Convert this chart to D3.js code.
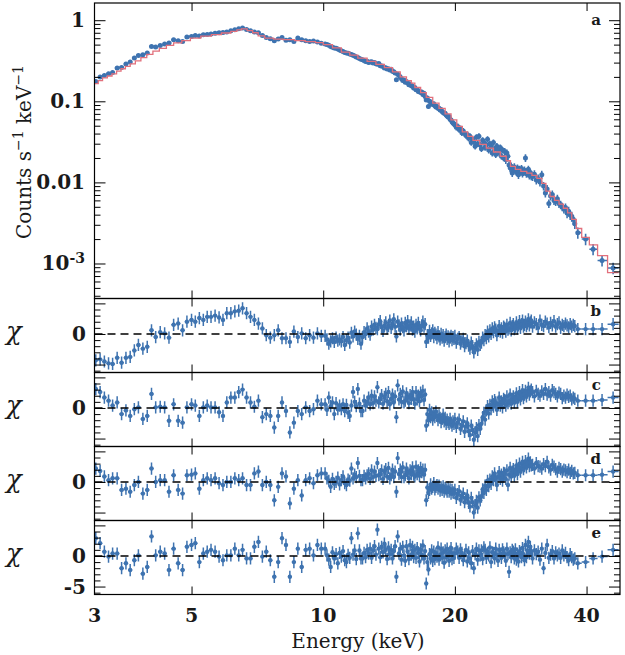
<!DOCTYPE html>
<html>
<head>
<meta charset="utf-8">
<script src="https://d3js.org/d3.v7.min.js"></script>
<style>
  body { margin: 0; background: #fff; }
  text { font-family: "DejaVu Serif", serif; fill: #1a1a1a; }
</style>
</head>
<body>
<div id="chart"></div>
<script>
// bin centres (keV)
const energy = [
  3.02, 3.09, 3.16, 3.23, 3.30, 3.38, 3.46, 3.54, 3.62, 3.70, 3.78, 3.87, 3.96, 4.05, 4.14, 4.24, 4.34, 4.44, 4.55, 4.66, 4.77, 4.88,
  5.00, 5.10, 5.21, 5.32, 5.43, 5.54, 5.66, 5.78, 5.90, 6.02, 6.15, 6.28, 6.41, 6.54, 6.68, 6.82, 6.96, 7.11, 7.26, 7.41, 7.57, 7.73,
  7.89, 8.05, 8.22, 8.39, 8.57, 8.75, 8.93, 9.12, 9.31, 9.50, 9.70, 9.90,
  10.1, 10.2, 10.3, 10.4, 10.5, 10.6, 10.7, 10.8, 10.9, 11.0, 11.1, 11.2, 11.3, 11.4, 11.5, 11.6, 11.7, 11.8, 11.9, 12.0, 12.1, 12.2,
  12.3, 12.4, 12.5, 12.6, 12.7, 12.8, 12.9, 13.0, 13.1, 13.2, 13.3, 13.4, 13.5, 13.6, 13.7, 13.8, 13.9, 14.0, 14.1, 14.2,
  14.3, 14.4, 14.5, 14.6, 14.7, 14.8, 14.9, 15.0, 15.1, 15.2, 15.3, 15.4, 15.5, 15.6, 15.7, 15.8, 15.9, 16.0, 16.1, 16.2,
  16.3, 16.4, 16.5, 16.6, 16.7, 16.8, 16.9, 17.0, 17.1, 17.2, 17.3, 17.4, 17.5, 17.6, 17.7, 17.8, 17.9, 18.0, 18.1, 18.2,
  18.3, 18.4, 18.5, 18.6, 18.7, 18.8, 18.9, 19.0, 19.1, 19.2, 19.3, 19.4, 19.5, 19.6, 19.7, 19.8, 19.9,
  20.0, 20.15, 20.3, 20.45, 20.6, 20.75, 20.9, 21.05, 21.2, 21.35, 21.5, 21.65, 21.8, 21.95, 22.1, 22.25, 22.4, 22.55, 22.7, 22.85,
  23.0, 23.15, 23.3, 23.45, 23.6, 23.75, 23.9, 24.05, 24.2, 24.35, 24.5, 24.65, 24.8, 24.95, 25.1, 25.25, 25.4, 25.55, 25.7, 25.85,
  26.0, 26.15, 26.3, 26.45, 26.6, 26.75, 26.9, 27.05, 27.2, 27.35, 27.5, 27.65, 27.8, 27.95, 28.1, 28.25, 28.4, 28.55, 28.7, 28.85,
  29.0, 29.15, 29.3, 29.45, 29.6, 29.75, 29.9,
  30.1, 30.4, 30.7, 31.0, 31.3, 31.6, 31.9, 32.2, 32.5, 32.8, 33.1, 33.4, 33.7, 34.0, 34.3, 34.6, 34.9, 35.2, 35.5, 35.8,
  36.1, 36.4, 36.7, 37.0, 37.3, 37.6,
  38.2, 39.8, 41.4, 43.4, 46.0
];

// counts s^-1 keV^-1 (panel a)
const counts = [
  0.176, 0.199, 0.208, 0.218, 0.226, 0.257, 0.262, 0.288, 0.305, 0.341, 0.368, 0.375, 0.393, 0.475, 0.467, 0.489, 0.508, 0.523, 0.575, 0.558, 0.548, 0.62,
  0.631, 0.649, 0.64, 0.662, 0.668, 0.675, 0.69, 0.701, 0.705, 0.715, 0.742, 0.76, 0.785, 0.80, 0.77, 0.742, 0.715, 0.70, 0.65, 0.613, 0.59, 0.558,
  0.585, 0.613, 0.565, 0.575, 0.548, 0.602, 0.575, 0.56, 0.548, 0.555, 0.538, 0.52,
  0.51, 0.50, 0.49, 0.475, 0.465, 0.455, 0.45, 0.44, 0.43, 0.42, 0.41, 0.40, 0.395, 0.39, 0.383, 0.378, 0.37, 0.362, 0.352, 0.346, 0.338, 0.33,
  0.326, 0.319, 0.31, 0.312, 0.30, 0.305, 0.308, 0.296, 0.30, 0.29, 0.287, 0.292, 0.275, 0.272, 0.27, 0.258, 0.26, 0.25, 0.252, 0.243,
  0.248, 0.235, 0.232, 0.223, 0.184, 0.215, 0.21, 0.20, 0.19, 0.18, 0.183, 0.172, 0.175, 0.168, 0.16, 0.163, 0.155, 0.153, 0.146, 0.148,
  0.139, 0.14, 0.132, 0.133, 0.128, 0.13, 0.121, 0.126, 0.115, 0.104, 0.11, 0.086, 0.10, 0.098, 0.093, 0.091, 0.093, 0.088, 0.085, 0.086,
  0.082, 0.082, 0.078, 0.079, 0.075, 0.073, 0.071, 0.071, 0.068, 0.066, 0.064, 0.065, 0.06, 0.059, 0.056, 0.054, 0.053,
  0.051, 0.048, 0.049, 0.045, 0.046, 0.041, 0.043, 0.040, 0.038, 0.039, 0.035, 0.037, 0.031, 0.034, 0.032, 0.028, 0.036, 0.030, 0.037, 0.029,
  0.026, 0.033, 0.031, 0.027, 0.029, 0.034, 0.025, 0.030, 0.028, 0.023, 0.031, 0.026, 0.022, 0.028, 0.025, 0.023, 0.027, 0.021, 0.025, 0.020,
  0.024, 0.019, 0.023, 0.021, 0.0164, 0.0150, 0.0158, 0.0131, 0.0142, 0.0155, 0.0140, 0.0135, 0.0150, 0.0124, 0.0145, 0.0138, 0.0148, 0.0129, 0.0135, 0.0141,
  0.020, 0.0128, 0.0136, 0.0145, 0.0122, 0.0132, 0.0119,
  0.0118, 0.0126, 0.0107, 0.0112, 0.0101, 0.0124, 0.0090, 0.0074, 0.0083, 0.0055, 0.0068, 0.0071, 0.0060, 0.0058, 0.0063, 0.0055, 0.0053, 0.0050, 0.0047, 0.0049,
  0.0042, 0.0044, 0.0040, 0.0038, 0.0035, 0.0031,
  0.0024, 0.0020, 0.0015, 0.00109, 0.00088
];

// fractional 1-sigma error on counts, by energy band
const errBandE = [3, 8, 12, 16, 20, 26, 30, 36, 38];
const errBandFrac = [0.025, 0.03, 0.045, 0.06, 0.09, 0.11, 0.12, 0.14, 0.16];

// folded model (step histogram): lower bin edges + values
const modelEdges = [
  3.00, 3.06, 3.13, 3.21, 3.29, 3.37, 3.45, 3.53, 3.62, 3.72, 3.83, 3.95, 4.08, 4.22, 4.38, 4.55, 4.75, 4.97, 5.25, 5.55,
  5.85, 6.15, 6.35, 6.50, 6.70, 6.90, 7.10, 7.35, 7.70, 8.10, 8.60, 9.10, 9.60, 10.0, 10.5, 11.0, 11.5, 12.0, 12.6, 13.2,
  13.8, 14.4, 15.0, 15.5, 15.9, 16.2, 16.7, 17.2, 17.8, 18.4, 19.0, 19.6, 20.2, 20.8, 21.4, 22.0, 22.8, 23.6, 24.5, 25.4,
  26.2, 26.8, 27.5, 28.3, 29.2, 30.0, 30.8, 31.6, 32.3, 33.0, 33.8, 34.6, 35.4, 36.2, 37.0, 37.9, 38.99, 40.59, 42.39, 44.68, 47.36
];
const modelCounts = [
  0.165, 0.18, 0.195, 0.205, 0.218, 0.235, 0.252, 0.27, 0.29, 0.315, 0.345, 0.38, 0.415, 0.45, 0.49, 0.525, 0.56, 0.60, 0.635, 0.665,
  0.695, 0.73, 0.76, 0.78, 0.745, 0.70, 0.64, 0.60, 0.585, 0.575, 0.56, 0.545, 0.53, 0.50, 0.455, 0.405, 0.37, 0.34, 0.31, 0.285,
  0.26, 0.23, 0.20, 0.18, 0.168, 0.148, 0.128, 0.112, 0.095, 0.082, 0.07, 0.059, 0.049, 0.042, 0.037, 0.033, 0.0295, 0.0265, 0.0237, 0.021,
  0.0185, 0.0158, 0.0145, 0.0137, 0.013, 0.0122, 0.0112, 0.0097, 0.0078, 0.0067, 0.006, 0.0054, 0.0048, 0.0042, 0.0035, 0.0027, 0.0021, 0.0017, 0.00125, 0.00077
];

// residuals (chi) for panels b-e
const chiB = [
  -4.3, -4.15, -4.5, -4.8, -4.9, -3.9, -4.7, -3.9, -3.75, -2.7, -1.8, -2.4, -2.1, 0.6, -0.5, 0.3, 0.1, -0.6, 1.5, 1.7, 0.6, 2.0,
  2.3, 2.0, 2.6, 2.3, 2.8, 2.8, 3.0, 2.7, 2.3, 3.4, 3.4, 3.7, 3.8, 4.2, 3.4, 2.8, 2.3, 1.7, 0.9, -0.2, -0.6, -0.2, 0.6, -0.7,
  -0.7, -1.3, 0.4, -0.5, 0.1, -0.7, -0.2, -0.6, 0.1, -0.3,
  -0.3, -0.9, -1.6, -1.2, -0.7, -1.3, -0.6, -1.1, -0.9, -1.2, -0.5, -1.8, -1.0, -0.6, -1.4, 0.2, -0.4, 0.4, -0.1, -0.8, -0.3, -1.6,
  -0.5, 0.3, 0.0, 0.9, 0.4, -0.1, 1.2, 0.7, 1.5, 1.0, 0.8, 1.6, 2.1, 1.1, 0.5, 1.4, 1.9, 0.9, 1.3, 2.2,
  1.0, 1.6, 2.4, 1.2, -0.4, 2.0, 1.4, 0.7, 1.7, 1.1, 0.6, 1.8, 1.3, 2.1, 0.9, 1.4, 1.9, 0.7, 1.2, 0.4,
  1.5, 0.9, 1.8, 1.1, 0.6, 1.4, 2.0, 1.2, 1.6, -1.3, -0.2, -0.6, 0.5, -0.3, 0.1, 0.6, -0.5, 0.2, -0.1, -0.7,
  0.3, -0.4, -0.9, 0.0, -0.6, -0.2, -1.1, -0.5, -0.1, -0.8, -0.4, -1.2, -0.6, -0.3, -1.0, -0.5, -0.8,
  -0.3, -1.4, -0.8, -0.5, -1.6, -1.2, -0.8, -2.0, -1.5, -1.1, -1.9, -2.4, -1.4, -2.0, -3.0, -2.3, -1.7, -2.6, -1.3, -1.8,
  -1.4, -0.6, -1.0, -0.2, -0.7, 0.4, -0.4, 0.6, 0.0, 0.9, 0.3, 1.1, 0.7, -0.2, 0.5, 1.3, 0.4, 0.9, 0.2, 1.2,
  1.0, 0.4, 1.5, 0.7, 0.9, 1.8, 0.6, 1.3, 1.6, 0.8, 1.2, 1.9, 0.9, 1.4, 2.1, 1.0, 1.6, 2.2, 1.2, 1.5,
  2.0, 1.3, 1.7, 2.4, 1.4, 1.9, 2.2,
  1.2, 1.9, 1.6, 1.0, 2.2, 1.5, 1.3, 2.0, 1.7, 1.1, 1.8, 1.4, 2.1, 1.2, 1.6, 1.9, 1.0, 1.5, 1.3, 1.7,
  1.4, 1.1, 1.6, 1.2, 1.5, 1.3,
  0.8, 0.8, 0.8, 0.8, 1.6
];
const chiC = [
  3.1, 2.6, 1.7, 1.2, 0.4, 0.9, -1.0, -0.4, -1.3, -0.2, 0.1, -1.8, -1.3, 2.3, 0.1, 0.2, 0.1, -2.1, 0.6, -2.1, -2.4, 0.1,
  0.6, 0.4, -1.3, 0.1, 0.4, 0.1, 0.1, -0.7, -1.3, 0.9, 1.7, 1.7, 2.6, 3.0, 1.7, 0.9, 0.2, 1.2, -1.5, -1.0, -1.3, -3.2, -1.3, 0.9,
  -0.5, -4.0, -2.4, -0.5, -1.0, 0.1, -0.5, -0.2, 1.2, 0.6,
  0.6, -0.3, 1.7, 0.3, 0.9, -1.0, 0.8, -0.2, 0.4, -0.2, 0.6, -0.5, 0.5, -0.8, -1.3, 0.4, 2.6, 1.0, 0.3, 3.1, 0.7, -0.5,
  -0.5, 1.2, 0.4, 1.0, 1.7, 0.6, 2.0, 0.8, 1.9, 1.2, 3.4, 0.9, 1.5, 2.1, 0.7, 1.8, 2.3, 1.1, 2.6, 0.6,
  1.5, 2.2, 0.9, 1.9, -1.5, 3.7, 1.4, 2.3, 1.0, 2.7, 0.9, 1.2, 2.4, 1.7, 0.8, 2.1, 1.5, 2.6, 1.4, 0.7,
  2.6, 1.4, 2.0, 1.1, 2.5, 1.9, 2.8, 1.3, 2.2, -2.9, -1.0, -2.0, -0.3, -1.5, -0.7, -1.9, -1.0, -1.5, -0.6, -1.3,
  -2.0, -1.2, -1.6, -2.3, -1.8, -1.1, -2.2, -1.6, -2.6, -1.9, -2.3, -2.6, -1.8, -2.4, -2.9, -2.2, -2.6,
  -1.8, -3.1, -2.4, -1.9, -3.4, -2.9, -2.2, -3.9, -3.0, -2.5, -3.8, -4.4, -2.9, -3.6, -5.2, -4.0, -3.3, -4.6, -2.8, -3.4,
  -2.6, -1.5, -0.8, -1.9, -0.4, 0.3, -0.9, 0.5, -0.2, 1.1, 0.2, 1.3, 0.9, -0.3, 0.6, 1.7, 0.4, 1.1, 0.1, 1.5,
  1.3, 0.4, 1.9, 0.8, 1.1, 2.2, 0.7, 1.5, 1.9, 0.9, 1.6, 2.4, 1.0, 1.8, 2.6, 1.4, 2.0, 2.9, 1.6, 2.2,
  2.8, 1.9, 2.5, 3.3, 2.2, 2.7, 3.0,
  2.6, 1.9, 2.8, 2.3, 2.0, 2.7, 2.3, 3.1, 2.2, 2.6, 2.0, 2.9, 2.6, 2.3, 1.9, 2.5, 2.3, 1.6, 2.0, 1.7,
  2.2, 1.8, 2.0, 1.4, 1.7, 1.5,
  1.2, 1.2, 1.2, 1.3, 1.7
];
const chiD = [
  2.2, 1.8, 0.9, 0.3, 0.6, 0.6, -1.3, -1.1, -1.6, -0.5, 0.0, -1.9, -1.3, 2.2, 0.0, 0.3, 0.3, -1.6, 1.1, -1.3, -1.9, 1.1,
  1.2, 1.4, -1.1, 0.3, 0.6, 0.3, 0.6, -0.2, -0.5, 0.0, 0.0, 0.6, 0.3, 0.6, -0.5, -0.5, 1.4, 1.7, -0.5, 0.0, -0.5, -3.0, -0.8, 1.4,
  0.9, -3.5, -1.1, 0.3, -2.2, 0.3, 0.6, -0.2, 1.1, 1.4,
  1.4, 0.6, 0.2, -0.8, 0.5, -0.3, 0.0, 0.7, -0.4, 0.3, 0.9, -0.2, -0.5, 0.4, 0.2, 2.2, 0.6, 1.2, 0.8, 3.1, 1.0, 0.3,
  0.3, 1.0, 0.6, 1.1, 1.4, 0.5, 1.9, 0.8, 1.7, 1.0, 3.1, 1.1, 1.3, 1.9, 0.5, 1.7, 2.1, 0.9, 2.3, 0.6,
  1.1, 2.0, 0.8, 1.7, -1.6, 3.9, 1.3, 2.0, 0.8, 2.4, 0.8, 1.1, 2.2, 1.5, 0.6, 1.9, 1.3, 2.4, 1.2, 0.9,
  2.5, 1.3, 1.9, 1.0, 2.3, 1.6, 2.0, 1.2, 2.0, -3.0, -0.9, -1.8, -1.3, -0.4, -1.1, -0.8, -0.2, -1.2, -0.8, -0.5,
  -1.1, -0.6, -1.4, -0.9, -1.3, -0.7, -1.6, -1.0, -1.2, -1.6, -0.9, -1.6, -1.2, -1.9, -1.3, -1.7, -1.8,
  -1.3, -2.6, -2.0, -1.5, -2.9, -2.4, -1.9, -3.3, -2.7, -2.2, -3.4, -4.0, -2.6, -3.3, -5.0, -3.8, -3.1, -4.2, -2.5, -3.0,
  -2.4, -1.2, -1.8, -0.6, -1.3, 0.2, -0.7, 0.4, -0.3, 0.9, 0.3, 1.4, 0.6, -0.5, 0.9, 1.6, 0.5, 1.2, 0.2, 1.5,
  1.4, 0.5, 1.9, -0.5, 1.2, 2.3, 0.9, 1.7, 2.1, 1.0, 1.8, 2.7, 1.3, 2.2, 3.0, 1.7, 2.4, 3.3, 2.1, 2.6,
  3.4, 2.4, 3.0, 3.8, 2.6, 3.2, 2.7,
  2.8, 2.2, 3.1, 2.6, 2.5, 2.2, 2.9, 2.6, 3.3, 2.4, 2.0, 2.8, 2.5, 2.1, 1.7, 2.3, 2.1, 1.7, 2.0, 1.9,
  1.6, 2.0, 1.5, 1.8, 1.4, 1.5,
  1.1, 1.1, 1.1, 1.2, 1.7
];
const chiE = [
  2.9, 2.1, 0.7, -0.1, 0.4, 0.4, -2.0, -1.2, -2.3, -0.7, 0.1, -2.9, -1.8, 3.2, 0.1, 0.7, 0.4, -2.3, 1.2, -1.2, -2.3, 1.5,
  1.8, 2.1, -1.0, 0.4, 0.7, 1.0, 0.7, -0.1, -0.7, 0.1, 0.1, 1.2, 0.1, 1.0, -0.4, -0.4, 1.5, 2.3, -0.1, 0.7, -0.7, -3.4, -1.0, 2.9,
  1.8, -3.4, -1.0, 1.2, -1.8, 1.0, 1.2, 0.1, 1.8, 1.2,
  1.2, 0.1, -0.6, -1.8, 0.6, -0.4, 0.3, -1.2, 0.5, -0.1, 0.8, -0.7, -1.0, 0.2, -0.3, 2.9, 0.2, 0.9, -0.5, 3.7, 0.9, -0.4,
  -0.4, 0.5, -0.2, 1.0, 0.4, 1.2, -0.3, 0.9, 1.6, 0.2, 4.3, 1.2, -0.2, 1.5, 0.6, 2.0, 1.0, -0.5, 1.4, 0.3,
  1.0, -0.4, 0.8, 1.6, -3.4, 3.2, 0.4, 1.2, -0.6, 1.5, 0.1, -0.8, 1.6, 0.7, -0.5, 1.8, 0.2, 1.5, -0.2, 1.0,
  -0.3, 1.3, 0.5, -0.9, 1.1, 0.2, 1.7, -0.4, 0.8, -4.5, -1.0, -2.2, 0.3, -0.4, 0.9, -0.8, 0.7, -0.5, 0.4, -0.1,
  1.4, -0.6, 0.2, 1.2, -0.3, 0.6, -1.1, 0.9, -0.2, 1.2, 0.3, -0.8, 0.7, 1.3, -0.5, 0.4, -0.3,
  0.4, 1.2, 0.7, -0.3, 1.1, 0.5, -0.7, 0.1, 1.0, -0.9, 0.6, -0.4, -1.2, 0.8, -2.0, 0.3, 1.2, -0.6, 0.9, 0.1,
  0.9, -0.5, 1.4, 1.0, -0.3, 0.5, 0.1, 1.4, -1.0, 0.6, 0.5, -0.4, 1.2, 0.2, -0.8, 1.0, 0.4, -0.3, 1.1, 0.6,
  0.2, -0.8, 1.2, 0.3, -2.6, 0.6, -0.2, 1.0, 0.7, -0.4, 1.1, -0.6, 0.4, -0.9, 0.8, 0.5, -0.2, 1.3, 0.3, -0.7,
  1.8, -0.2, 0.9, 2.3, 0.4, 1.5, 0.8,
  -0.4, 0.9, 0.3, 0.7, -0.6, 1.2, -2.0, 0.5, 1.8, -0.3, 0.2, 0.8, -0.4, 0.6, 0.1, 0.4, -0.3, 0.9, 0.1, 0.5,
  -0.2, -0.7, 0.3, -0.2, -0.6, -0.4,
  -1.2, -1.0, -0.4, -0.1, 1.0
];

const xTickValues = [3, 5, 10, 20, 40];
const yTickValues = [1, 0.1, 0.01, 0.001];
const panelLetters = ["a", "b", "c", "d", "e"];

const W = 625, H = 655;
const left = 94.5, right = 620;
const blue = "#3e73b0", red = "#e2707c";

const svg = d3.select("#chart").append("svg").attr("width", W).attr("height", H);

const x = d3.scaleLog().domain([3, 47.7]).range([left, right]);

// bin edges from neighbouring bin centres
const n = energy.length;
const binHi = energy.map((e, i) => i < n - 1 ? Math.sqrt(e * energy[i + 1]) : null);
const binLo = energy.map((e, i) => i > 0 ? Math.sqrt(energy[i - 1] * e) : e * e / binHi[0]);
binHi[n - 1] = energy[n - 1] * energy[n - 1] / binLo[n - 1];

const fracAt = e => {
  let f = errBandFrac[0];
  errBandE.forEach((v, i) => { if (e >= v) f = errBandFrac[i]; });
  return f;
};

function clip(id, top, bottom) {
  svg.append("clipPath").attr("id", id).append("rect")
    .attr("x", left).attr("y", top).attr("width", right - left).attr("height", bottom - top);
}

function frame(top, bottom, y, major, minor) {
  const g = svg.append("g");
  const xt = [5, 10, 20, 40];
  g.append("g").attr("transform", `translate(0,${bottom})`)
    .call(d3.axisBottom(x).tickValues(xt).tickSize(-8).tickFormat(""));
  g.append("g").attr("transform", `translate(0,${top})`)
    .call(d3.axisTop(x).tickValues(xt).tickSize(-8).tickFormat(""));
  [[major, 11], [minor, 6]].forEach(([vals, len]) => {
    g.append("g").attr("transform", `translate(${left},0)`)
      .call(d3.axisLeft(y).tickValues(vals).tickSize(-len).tickFormat(""));
    g.append("g").attr("transform", `translate(${right},0)`)
      .call(d3.axisRight(y).tickValues(vals).tickSize(-len).tickFormat(""));
  });
  g.selectAll(".domain").remove();
  g.selectAll(".tick line").attr("stroke", "#000").attr("stroke-width", 1);
  g.append("rect")
    .attr("x", left).attr("y", top).attr("width", right - left).attr("height", bottom - top)
    .attr("fill", "none").attr("stroke", "#000").attr("stroke-width", 1.2);
}

// ---- panel a: spectrum ----
const aTop = 3, aBottom = 298.5;
const ya = d3.scaleLog().domain([3.7e-4, 1.63]).range([aBottom, aTop]);
clip("clipA", aTop, aBottom);
const gA = svg.append("g").attr("clip-path", "url(#clipA)");
const pts = energy.map((e, i) => ({ e, c: counts[i], lo: binLo[i], hi: binHi[i], f: fracAt(e) }));

gA.selectAll(".vbar").data(pts).join("line")
  .attr("x1", d => x(d.e)).attr("x2", d => x(d.e))
  .attr("y1", d => ya(d.c * (1 - d.f))).attr("y2", d => ya(d.c * (1 + d.f)))
  .attr("stroke", blue).attr("stroke-width", 1.6);
gA.selectAll(".hbar").data(pts).join("line")
  .attr("x1", d => x(d.lo)).attr("x2", d => x(d.hi))
  .attr("y1", d => ya(d.c)).attr("y2", d => ya(d.c))
  .attr("stroke", blue).attr("stroke-width", 1.6);
gA.selectAll("circle").data(pts).join("circle")
  .attr("cx", d => x(d.e)).attr("cy", d => ya(d.c)).attr("r", 2.5)
  .attr("fill", blue);

const modelPts = modelCounts.map((c, i) => [modelEdges[i], c]);
modelPts.push([modelEdges[modelCounts.length], modelCounts[modelCounts.length - 1]]);
gA.append("path").datum(modelPts)
  .attr("d", d3.line().x(d => x(d[0])).y(d => ya(d[1])).curve(d3.curveStepAfter))
  .attr("fill", "none").attr("stroke", red).attr("stroke-width", 1.3);

const aMinor = [];
for (let p = -4; p <= 0; p++) for (let k = 2; k <= 9; k++) {
  const v = k * Math.pow(10, p);
  if (v > 3.7e-4 && v < 1.63) aMinor.push(v);
}
frame(aTop, aBottom, ya, yTickValues, aMinor);

svg.selectAll(".ylab").data(yTickValues).join("text")
  .attr("x", 85).attr("y", d => ya(d) + 7)
  .attr("text-anchor", "end").style("font-size", "20px").style("font-weight", "bold")
  .each(function (d) {
    const t = d3.select(this);
    if (d === 0.001) {
      t.append("tspan").text("10");
      t.append("tspan").attr("dy", -7).style("font-size", "14px").text("-3");
    } else {
      t.text(String(d));
    }
  });

svg.append("text")
  .attr("transform", "translate(31,152) rotate(-90)")
  .attr("text-anchor", "middle").style("font-size", "20px")
  .call(t => {
    t.append("tspan").text("Counts s");
    t.append("tspan").attr("dy", -8).style("font-size", "14px").text("\u22121");
    t.append("tspan").attr("dy", 8).text(" keV");
    t.append("tspan").attr("dy", -8).style("font-size", "14px").text("\u22121");
  });

// ---- panels b-e: residuals ----
const resid = [
  { chi: chiB, top: 298.5, bottom: 372.5 },
  { chi: chiC, top: 372.5, bottom: 446.5 },
  { chi: chiD, top: 446.5, bottom: 520.5 },
  { chi: chiE, top: 520.5, bottom: 594.5 }
];
const rMajor = [-5, 0, 5];
const rMinor = [-6, -4, -3, -2, -1, 1, 2, 3, 4];

resid.forEach((p, k) => {
  const y = d3.scaleLinear().domain([-6.3, 5.8]).range([p.bottom, p.top]);
  const id = "clipR" + k;
  clip(id, p.top, p.bottom);
  const g = svg.append("g").attr("clip-path", `url(#${id})`);
  const rp = energy.map((e, i) => ({ e, v: p.chi[i], lo: binLo[i], hi: binHi[i] }));

  g.selectAll(".vbar").data(rp).join("line")
    .attr("x1", d => x(d.e)).attr("x2", d => x(d.e))
    .attr("y1", d => y(d.v - 1)).attr("y2", d => y(d.v + 1))
    .attr("stroke", blue).attr("stroke-width", 1.5);
  g.selectAll(".hbar").data(rp).join("line")
    .attr("x1", d => x(d.lo)).attr("x2", d => x(d.hi))
    .attr("y1", d => y(d.v)).attr("y2", d => y(d.v))
    .attr("stroke", blue).attr("stroke-width", 1.5);
  g.selectAll("circle").data(rp).join("circle")
    .attr("cx", d => x(d.e)).attr("cy", d => y(d.v)).attr("r", 2.2)
    .attr("fill", blue);

  g.append("line")
    .attr("x1", left).attr("x2", right).attr("y1", y(0)).attr("y2", y(0))
    .attr("stroke", "#000").attr("stroke-width", 1.6).attr("stroke-dasharray", "8,5");

  frame(p.top, p.bottom, y, rMajor, rMinor);

  const labs = k === 3 ? [0, -5] : [0];
  svg.selectAll(".rl" + k).data(labs).join("text")
    .attr("x", 86).attr("y", d => y(d) + 7)
    .attr("text-anchor", "end").style("font-size", "20px").style("font-weight", "bold")
    .text(d => String(d));

  svg.append("text")
    .attr("x", 14).attr("y", y(0) + 6)
    .attr("text-anchor", "middle").style("font-size", "26px").style("font-style", "italic")
    .text("\u03c7");
});

// panel letters
const tops = [aTop + 22, 298.5 + 17, 372.5 + 17, 446.5 + 17, 520.5 + 17];
svg.selectAll(".letter").data(panelLetters).join("text")
  .attr("x", 601).attr("y", (d, i) => tops[i])
  .attr("text-anchor", "end").style("font-size", "15px").style("font-weight", "bold")
  .text(d => d);

// x axis labels
svg.selectAll(".xlab").data(xTickValues).join("text")
  .attr("x", d => x(d)).attr("y", 622)
  .attr("text-anchor", "middle").style("font-size", "19px").style("font-weight", "bold")
  .text(d => String(d));

svg.append("text")
  .attr("x", 358).attr("y", 648)
  .attr("text-anchor", "middle").style("font-size", "20px")
  .text("Energy (keV)");
</script>
</body>
</html>
